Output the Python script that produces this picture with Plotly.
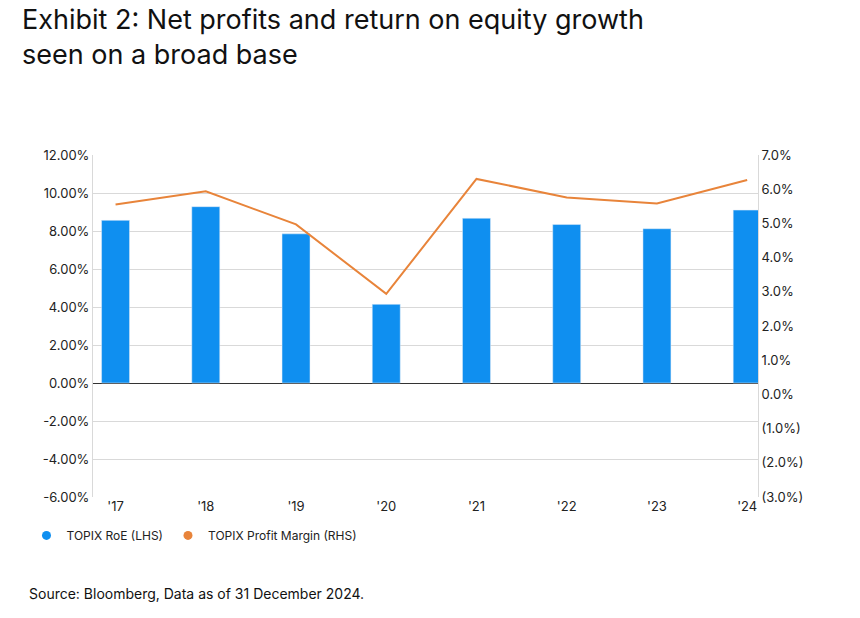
import plotly.graph_objects as go

years = ["'17", "'18", "'19", "'20", "'21", "'22", "'23", "'24"]
roe = [8.56, 9.28, 7.85, 4.14, 8.67, 8.34, 8.12, 9.10]
margin = [5.55, 5.94, 4.97, 2.94, 6.30, 5.76, 5.58, 6.27]
left_ticks = [-6, -4, -2, 0, 2, 4, 6, 8, 10, 12]
right_ticks = [-3, -2, -1, 0, 1, 2, 3, 4, 5, 6, 7]

def rfmt(v):
    return f"({abs(v):.1f}%)" if v < 0 else f"{v:.1f}%"

blue = "#0f8ff0"
orange = "#e8843a"
fig = go.Figure()
fig.add_trace(go.Bar(x=list(range(len(years))), y=roe, name="TOPIX RoE (LHS)", marker_color=blue,
                     width=0.31, showlegend=False))
fig.add_trace(go.Scatter(x=[None], y=[None], mode="markers", name="TOPIX RoE (LHS)",
                         marker=dict(symbol="circle", size=9, color=blue)))
fig.add_trace(go.Scatter(x=[None], y=[None], mode="markers", name="TOPIX Profit Margin (RHS)",
                         marker=dict(symbol="circle", size=9, color=orange)))
fig.add_trace(go.Scatter(x=list(range(len(years))), y=margin, name="TOPIX Profit Margin (RHS)", yaxis="y2",
                         mode="lines", line=dict(color=orange, width=2), showlegend=False))
fig.update_layout(
    width=860, height=618, plot_bgcolor="white", paper_bgcolor="white",
    font=dict(family="Inter, Roboto, sans-serif", size=13, color="#222"),
    margin=dict(l=85, r=110, t=147, b=129),
    xaxis=dict(showgrid=False, ticks="", tickfont=dict(size=13), range=[-0.25, 7.12],
               tickvals=list(range(len(years))), ticktext=years),
    yaxis=dict(range=[-6, 12], tickvals=left_ticks, ticktext=[f"{v:.2f}%" for v in left_ticks],
               gridcolor="#d9d9d9", zeroline=True, zerolinecolor="#333", zerolinewidth=1,
               showline=True, linecolor="#d9d9d9"),
    yaxis2=dict(range=[-3, 7], overlaying="y", side="right", tickvals=right_ticks,
                ticktext=[rfmt(v) for v in right_ticks], showgrid=False, zeroline=False,
                showline=True, linecolor="#d9d9d9"),
    legend=dict(orientation="h", x=-0.1, xanchor="left", y=-0.07, yanchor="top",
                font=dict(size=12), itemwidth=30),
)
fig.add_annotation(text="Exhibit 2: Net profits and return on equity growth<br>seen on a broad base",
                   xref="paper", yref="paper", x=-0.11, y=1.45, xanchor="left", yanchor="top",
                   showarrow=False, align="left", font=dict(size=27, color="#111"))
fig.add_annotation(text="Source: Bloomberg, Data as of 31 December 2024.", xref="paper", yref="paper",
                   x=-0.1, y=-0.25, xanchor="left", yanchor="top", showarrow=False,
                   font=dict(size=14, color="#111"))
fig.write_html("out.html")
